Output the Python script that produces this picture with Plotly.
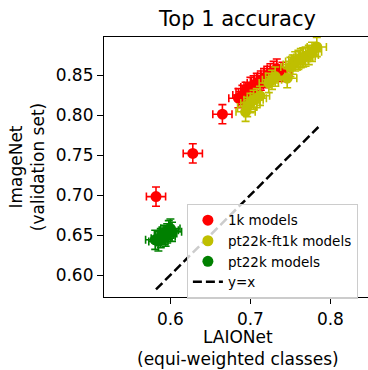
import plotly.graph_objects as go

# LAIONet (equi-weighted) vs ImageNet validation top-1 accuracy
in1k_laion = [0.582, 0.628, 0.665, 0.685, 0.690, 0.694, 0.700, 0.704, 0.708,
              0.713, 0.717, 0.721, 0.725, 0.729, 0.733, 0.740]
in1k_imnet = [0.698, 0.752, 0.801, 0.821, 0.825, 0.829, 0.835, 0.837, 0.840,
              0.843, 0.846, 0.849, 0.852, 0.855, 0.858, 0.854]

ft1k_laion = [0.694, 0.696, 0.700, 0.704, 0.708, 0.712, 0.723, 0.727, 0.731,
              0.746, 0.750, 0.753, 0.756, 0.760, 0.763, 0.766, 0.769, 0.773,
              0.777, 0.783]
ft1k_imnet = [0.804, 0.810, 0.815, 0.819, 0.821, 0.824, 0.840, 0.844, 0.848,
              0.846, 0.860, 0.863, 0.867, 0.869, 0.871, 0.872, 0.873, 0.875,
              0.879, 0.885]

pt22k_laion = [0.581, 0.585, 0.588, 0.592, 0.594, 0.596, 0.598, 0.600, 0.602]
pt22k_imnet = [0.644, 0.642, 0.646, 0.650, 0.648, 0.652, 0.656, 0.658, 0.654]

err_x = 0.012
err_y = 0.012

identity = [0.582, 0.785]

x_ticks = [0.6, 0.7, 0.8]
y_ticks = [0.60, 0.65, 0.70, 0.75, 0.80, 0.85]

FONT = "DejaVu Sans"


def model_trace(xs, ys, color, name):
    return go.Scatter(
        x=xs, y=ys, mode="markers", name=name,
        marker=dict(color=color, size=11, line=dict(width=0)),
        error_x=dict(type="constant", value=err_x, color=color,
                     thickness=1.6, width=4),
        error_y=dict(type="constant", value=err_y, color=color,
                     thickness=1.6, width=4),
    )


fig = go.Figure()
fig.add_trace(model_trace(in1k_laion, in1k_imnet, "#ff0000", "1k models"))
fig.add_trace(model_trace(ft1k_laion, ft1k_imnet, "#bfbf00", "pt22k-ft1k models"))
fig.add_trace(model_trace(pt22k_laion, pt22k_imnet, "#008000", "pt22k models"))
fig.add_trace(go.Scatter(
    x=identity, y=identity, mode="lines", name="y=x",
    line=dict(color="black", width=2.5, dash="9px,4px"),
))

axis_common = dict(
    showgrid=False, zeroline=False, showline=True, linecolor="black",
    linewidth=1.2, ticks="outside", ticklen=6, tickwidth=1.2,
    tickcolor="black", tickfont=dict(family=FONT, size=17, color="black"),
    automargin=False,
)

fig.update_layout(
    width=368, height=370,
    margin=dict(l=104, r=0, t=37, b=73),
    paper_bgcolor="white", plot_bgcolor="white",
    font=dict(family=FONT, color="black"),
    title=dict(text="Top 1 accuracy", x=237.5 / 368, xanchor="center",
               y=1 - 19 / 370, yanchor="middle",
               font=dict(family=FONT, size=21, color="black")),
    xaxis=dict(range=[0.517, 0.847], tickvals=x_ticks,
               ticktext=[f"{v:.1f}" for v in x_ticks], mirror=True,
               **axis_common),
    yaxis=dict(range=[0.5725, 0.8975], tickvals=y_ticks,
               ticktext=[f"{v:.2f}" for v in y_ticks], mirror=False,
               title=dict(text="ImageNet<br>(validation set)",
                          font=dict(family=FONT, size=17, color="black"),
                          standoff=6),
               **axis_common),
    legend=dict(x=0.314, y=0.358, xanchor="left", yanchor="top",
                bgcolor="rgba(255,255,255,0.8)", bordercolor="#cccccc",
                borderwidth=1, font=dict(family=FONT, size=13.5, color="black"),
                tracegroupgap=0),
    showlegend=True,
)

# x-axis title placed below the tick labels, centred on the plot area
fig.add_annotation(
    text="LAIONet<br>(equi-weighted classes)", xref="paper", yref="paper",
    x=(237.5 - 104) / 264, y=-51 / 260, xanchor="center", yanchor="middle",
    showarrow=False, align="center",
    font=dict(family=FONT, size=17, color="black"),
)

fig.write_html("out.html")
